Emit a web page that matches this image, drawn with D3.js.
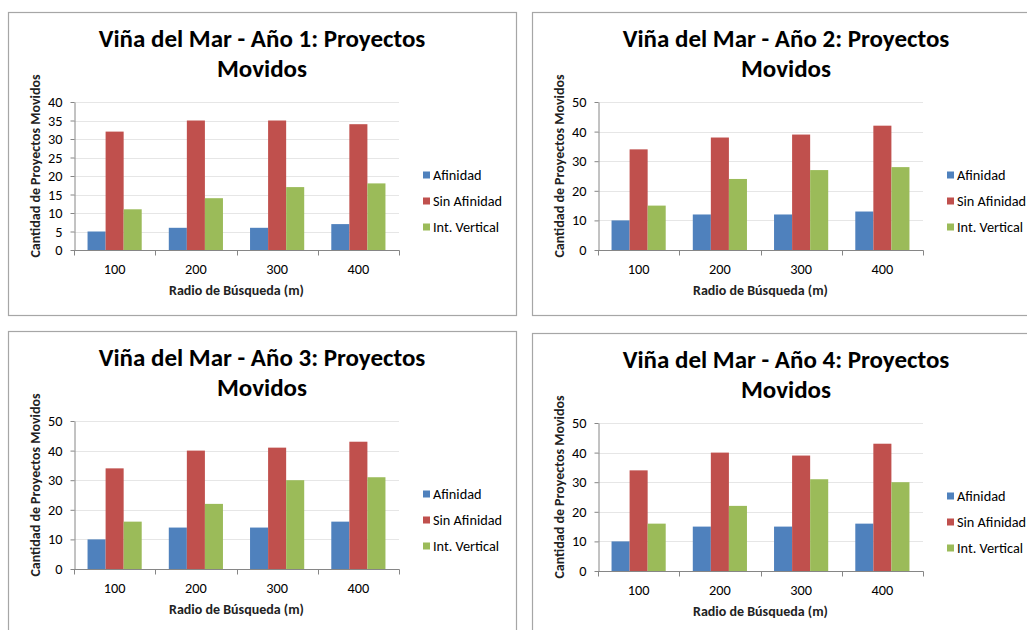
<!DOCTYPE html>
<html>
<head>
<meta charset="utf-8">
<script src="https://cdn.jsdelivr.net/npm/d3@7"></script>
<style>
  html, body { margin: 0; padding: 0; background: #fff; }
  svg { display: block; font-family: Carlito, Calibri, Lato, sans-serif; }
</style>
</head>
<body>
<svg id="chart" width="1027" height="630"></svg>
<script>
// Search radius categories (m)
const categories = ["100", "200", "300", "400"];
const seriesNames = ["Afinidad", "Sin Afinidad", "Int. Vertical"];
const seriesColors = ["#4F81BD", "#C0504D", "#9BBB59"];

// Projects moved per year, one array per series
const afinidad1 = [5, 6, 6, 7];
const sinAfinidad1 = [32, 35, 35, 34];
const intVertical1 = [11, 14, 17, 18];

const afinidad2 = [10, 12, 12, 13];
const sinAfinidad2 = [34, 38, 39, 42];
const intVertical2 = [15, 24, 27, 28];

const afinidad3 = [10, 14, 14, 16];
const sinAfinidad3 = [34, 40, 41, 43];
const intVertical3 = [16, 22, 30, 31];

const afinidad4 = [10, 15, 15, 16];
const sinAfinidad4 = [34, 40, 39, 43];
const intVertical4 = [16, 22, 31, 30];

// Y-axis tick values
const ticksYear1 = [0, 5, 10, 15, 20, 25, 30, 35, 40];
const ticksOther = [0, 10, 20, 30, 40, 50];

const panels = [
  { title: "Viña del Mar - Año 1: Proyectos", series: [afinidad1, sinAfinidad1, intVertical1], ticks: ticksYear1, x: 8, y: 12 },
  { title: "Viña del Mar - Año 2: Proyectos", series: [afinidad2, sinAfinidad2, intVertical2], ticks: ticksOther, x: 532, y: 12 },
  { title: "Viña del Mar - Año 3: Proyectos", series: [afinidad3, sinAfinidad3, intVertical3], ticks: ticksOther, x: 8, y: 331 },
  { title: "Viña del Mar - Año 4: Proyectos", series: [afinidad4, sinAfinidad4, intVertical4], ticks: ticksOther, x: 532, y: 333 }
];

const svg = d3.select("#chart");
const PW = 508, PH = 303;
const plot = { left: 66, right: 391, top: 90, bottom: 238 };
const FONT = "Carlito, Calibri, Lato, sans-serif";
const labelSize = 14.3;

panels.forEach(p => {
  const g = svg.append("g").attr("transform", `translate(${p.x},${p.y})`);

  // panel frame
  g.append("rect")
    .attr("x", 0.5).attr("y", 0.5)
    .attr("width", PW).attr("height", PH)
    .attr("fill", "#fff").attr("stroke", "#a6a6a6").attr("stroke-width", 1.2);

  // title on two lines
  const title = g.append("text")
    .attr("text-anchor", "middle")
    .attr("font-weight", "bold").attr("font-size", 25).attr("fill", "#000");
  title.append("tspan").attr("x", PW / 2).attr("y", 35).text(p.title);
  title.append("tspan").attr("x", PW / 2).attr("y", 65).text("Movidos");

  const yMax = p.ticks[p.ticks.length - 1];
  const y = d3.scaleLinear().domain([0, yMax]).range([plot.bottom, plot.top]);
  const x0 = d3.scaleBand().domain(categories).range([plot.left, plot.right]).paddingInner(0).paddingOuter(0);
  const x1 = d3.scaleBand().domain(seriesNames).range([0, x0.bandwidth()]).paddingOuter(0.75).paddingInner(0);

  // gridlines
  g.append("g").selectAll("line").data(p.ticks.slice(1)).join("line")
    .attr("x1", plot.left).attr("x2", plot.right)
    .attr("y1", d => Math.round(y(d)) + 0.5).attr("y2", d => Math.round(y(d)) + 0.5)
    .attr("stroke", "#e6e6e6").attr("stroke-width", 1);

  // bars
  const groups = g.append("g").selectAll("g").data(categories).join("g")
    .attr("transform", d => `translate(${x0(d)},0)`);
  groups.selectAll("rect")
    .data((c, i) => seriesNames.map((s, k) => ({ s, k, v: p.series[k][i] })))
    .join("rect")
    .attr("x", d => x1(d.s))
    .attr("y", d => y(d.v))
    .attr("width", x1.bandwidth())
    .attr("height", d => y(0) - y(d.v))
    .attr("fill", d => seriesColors[d.k]);

  // y axis
  const yAxis = g.append("g").attr("transform", `translate(${plot.left + 0.5},0)`)
    .call(d3.axisLeft(y).tickValues(p.ticks).tickSize(4).tickPadding(8).tickSizeOuter(0));
  yAxis.select(".domain").attr("stroke", "#868686");
  yAxis.selectAll(".tick line").attr("stroke", "#868686");
  yAxis.selectAll(".tick text").attr("font-size", labelSize).attr("fill", "#000")
    .attr("font-family", FONT);

  // x axis: category labels, ticks between categories
  const xAxis = g.append("g").attr("transform", `translate(0,${plot.bottom + 0.5})`);
  xAxis.append("line").attr("x1", plot.left).attr("x2", plot.right + 0.5)
    .attr("stroke", "#868686");
  const bounds = categories.map(c => x0(c)).concat([plot.right]);
  xAxis.selectAll(".xt").data(bounds).join("line").attr("class", "xt")
    .attr("x1", d => Math.round(d) + 0.5).attr("x2", d => Math.round(d) + 0.5)
    .attr("y1", 0).attr("y2", 5).attr("stroke", "#868686");
  xAxis.selectAll("text").data(categories).join("text")
    .attr("x", d => x0(d) + x0.bandwidth() / 2).attr("y", 23)
    .attr("text-anchor", "middle").attr("font-size", labelSize).attr("fill", "#000")
    .text(d => d);

  // axis titles
  g.append("text")
    .attr("x", (plot.left + plot.right) / 2).attr("y", plot.bottom + 45)
    .attr("text-anchor", "middle").attr("font-weight", "bold").attr("font-size", 14).attr("fill", "#222")
    .text("Radio de Búsqueda (m)");
  g.append("text")
    .attr("transform", `translate(32,154) rotate(-90)`)
    .attr("text-anchor", "middle").attr("font-weight", "bold").attr("font-size", 14).attr("fill", "#222")
    .text("Cantidad de Proyectos Movidos");

  // legend
  const leg = g.append("g").attr("transform", "translate(415,163)");
  const items = leg.selectAll("g").data(seriesNames).join("g")
    .attr("transform", (d, i) => `translate(0,${i * 26})`);
  items.append("rect").attr("x", 0).attr("y", -3.5).attr("width", 7).attr("height", 7)
    .attr("fill", (d, i) => seriesColors[i]);
  items.append("text").attr("x", 10).attr("y", 5)
    .attr("font-size", labelSize).attr("fill", "#000").text(d => d);
});
</script>
</body>
</html>
